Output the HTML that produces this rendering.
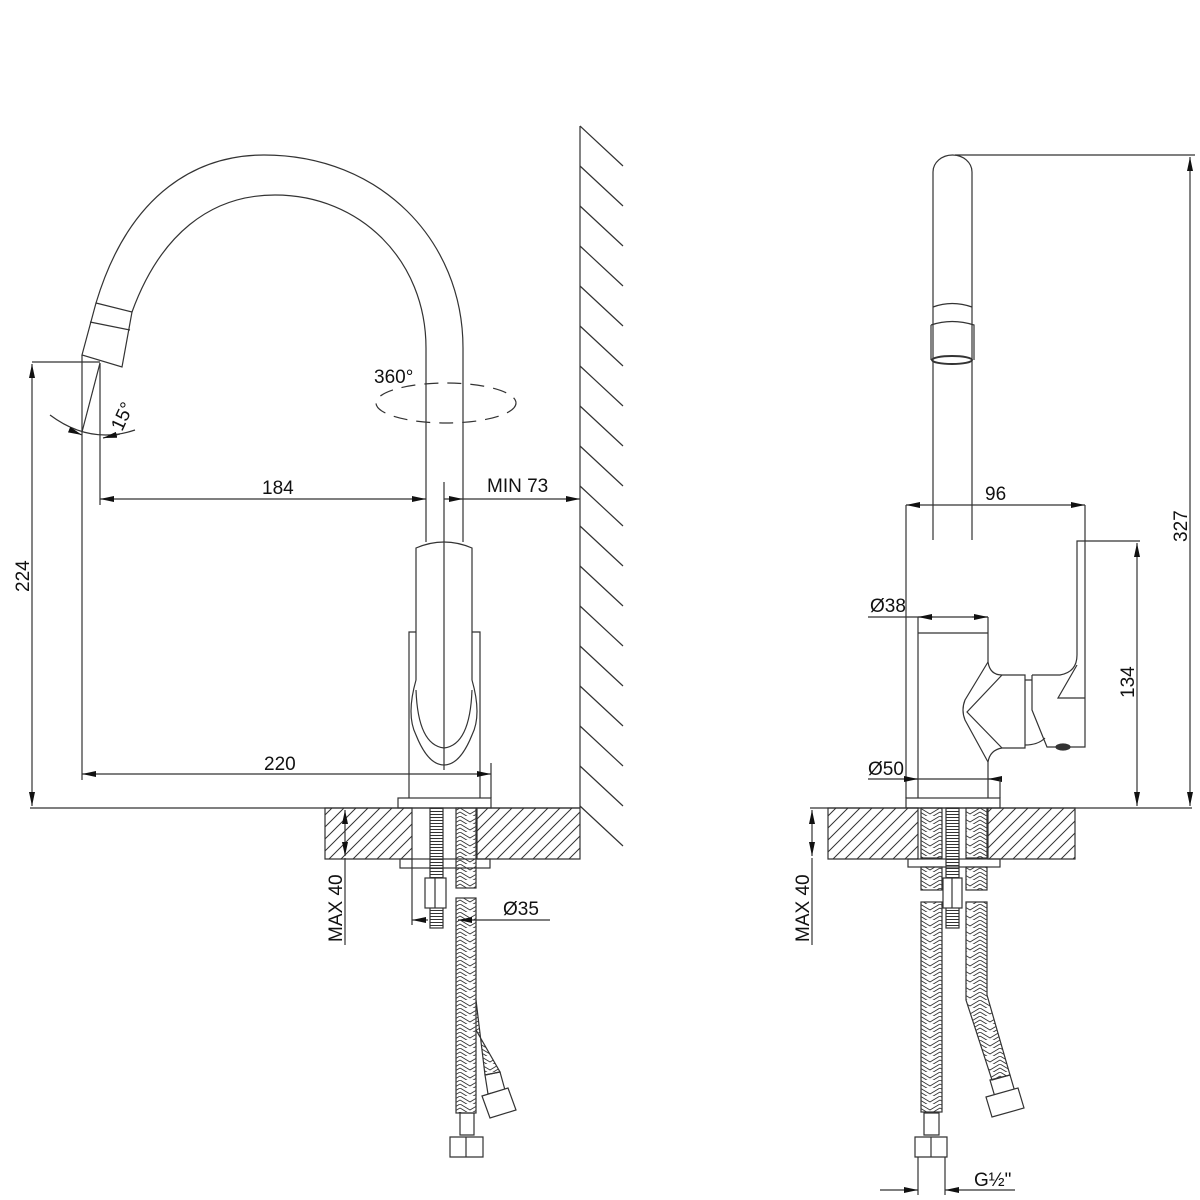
<!DOCTYPE html>
<html><head><meta charset="utf-8"><style>
html,body{margin:0;padding:0;background:#fff;}
svg{display:block;}
text{font-family:"Liberation Sans",Arial,sans-serif;font-size:19px;fill:#111;}
</style></head><body>
<svg width="1200" height="1200" viewBox="0 0 1200 1200" xmlns="http://www.w3.org/2000/svg">
<defs>
<pattern id="h1" width="12" height="12" patternUnits="userSpaceOnUse">
<path d="M-3 15 L15 -3 M-3 3 L3 -3 M9 15 L15 9" stroke="#333" stroke-width="1"/>
</pattern>
<pattern id="brd" width="20" height="8" patternUnits="userSpaceOnUse">
<path d="M0 0 L10 6 L20 0 M0 4 L10 10 L20 4" stroke="#333" stroke-width="0.9" fill="none"/>
</pattern>
<pattern id="thr" width="10" height="3" patternUnits="userSpaceOnUse">
<path d="M0 1.5 L10 1.5" stroke="#333" stroke-width="1"/>
</pattern>
<marker id="a" viewBox="0 0 14 6" refX="14" refY="3" markerWidth="14" markerHeight="6" orient="auto-start-reverse" markerUnits="userSpaceOnUse">
<path d="M0 0 L14 3 L0 6 Z" fill="#111"/>
</marker>
</defs>
<g stroke="#333" stroke-width="1.2" fill="none">
<path d="M96 303 C130 190 200 155 264 155 C380 155 463 240 463 348 L463 542"/>
<path d="M132 312 C160 235 210 195 275 195 C360 195 426 260 426 348 L426 542"/>
<path d="M96 303 L132 312 L122 367 L82 355 Z"/>
<path d="M90 322 L130 330"/>
<ellipse cx="446" cy="403" rx="70" ry="20" stroke-dasharray="14,9"/>
<text x="374" y="383" stroke="none">360°</text>
<path d="M50 415 Q90 445 135 430" />
<path d="M70 430 L82 435" marker-end="url(#a)"/>
<path d="M120 434 L103 438" marker-end="url(#a)"/>
<text x="0" y="0" stroke="none" transform="translate(122,432) rotate(-65)">15°</text>
<path d="M32 362 L100 362"/>
<path d="M82 355 L82 780"/>
<path d="M100 363 L100 505"/>
<path d="M100 363 L82 432"/>
<path d="M32 364 L32 806" marker-start="url(#a)" marker-end="url(#a)"/>
<text stroke="none" transform="translate(29,592) rotate(-90)">224</text>
<path d="M30 808 L580 808"/>
<path d="M100 499 L426 499" marker-start="url(#a)" marker-end="url(#a)"/>
<path d="M444 499 L463 499" marker-end="url(#a)"/>
<path d="M463 499 L580 499" marker-end="url(#a)"/>
<text x="262" y="494" stroke="none">184</text>
<text x="487" y="492" stroke="none">MIN 73</text>
<path d="M444 482 L444 770"/>
<path d="M416 548 Q444 536 472 548 L472 680 Q482 715 472 735 Q460 765 444 765 Q428 765 416 735 Q406 715 416 680 Z"/>
<path d="M416 690 Q418 745 444 748 Q470 745 472 690"/>
<path d="M409 798 L409 632 L416 632 M472 632 L480 632 L480 798"/>
<rect x="398" y="798" width="93" height="10"/>
<path d="M82 774 L491 774" marker-start="url(#a)" marker-end="url(#a)"/>
<path d="M491 763 L491 798"/>
<text x="264" y="770" stroke="none">220</text>
<path d="M580 126 L580 808"/>
<path d="M580 126 L623 166 M580 166 L623 206 M580 206 L623 246 M580 246 L623 286 M580 286 L623 326 M580 326 L623 366 M580 366 L623 406 M580 406 L623 446 M580 446 L623 486 M580 486 L623 526 M580 526 L623 566 M580 566 L623 606 M580 606 L623 646 M580 646 L623 686 M580 686 L623 726 M580 726 L623 766 M580 766 L623 806 M580 806 L623 846"/>
<path d="M325 808 L412 808 L412 859 L325 859 Z" fill="url(#h1)"/>
<path d="M477 808 L580 808 L580 859 L477 859 Z" fill="url(#h1)"/>
<rect x="400" y="859" width="90" height="9"/>
<rect x="430" y="808" width="13" height="120" fill="url(#thr)"/>
<rect x="425" y="878" width="21" height="30" fill="#fff"/>
<path d="M435 878 L435 908"/>
<rect x="456" y="808" width="20" height="80" fill="url(#brd)"/>
<rect x="456" y="898" width="20" height="215" fill="url(#brd)"/>
<path d="M476 1000 L485 1075 L500 1072 L476 1030" fill="url(#brd)"/>
<path d="M485 1075 L500 1072 L505 1090 L488 1094 Z"/>
<path d="M482 1096 L508 1088 L516 1110 L490 1118 Z" fill="#fff"/>
<path d="M460 1113 L474 1113 L474 1135 L460 1135 Z"/>
<path d="M450 1137 L483 1137 L483 1157 L450 1157 Z" fill="#fff"/>
<path d="M466 1137 L466 1157"/>
<path d="M345 810 L345 856" marker-start="url(#a)" marker-end="url(#a)"/>
<path d="M345 858 L345 945"/>
<text stroke="none" transform="translate(342,942) rotate(-90)">MAX 40</text>
<path d="M412 859 L412 925"/>
<path d="M412 920 L428 920" marker-start="url(#a)"/>
<path d="M458 920 L550 920" marker-start="url(#a)"/>
<text x="503" y="915" stroke="none">Ø35</text>

<path d="M933 540 L933 172 A19.5 17 0 0 1 972 172 L972 540"/>
<path d="M933 307 Q952 300 972 307"/>
<path d="M931 325 Q952 318 974 325 L974 360 M931 325 L931 360"/>
<ellipse cx="952" cy="360" rx="20" ry="4" stroke-width="2"/>
<path d="M955 155 L1195 155"/>
<path d="M1190 157 L1190 806" marker-start="url(#a)" marker-end="url(#a)"/>
<text stroke="none" transform="translate(1187,542) rotate(-90)">327</text>
<path d="M906 505 L1085 505" marker-start="url(#a)" marker-end="url(#a)"/>
<text x="985" y="500" stroke="none">96</text>
<path d="M906 505 L906 798 M1085 505 L1085 541"/>
<path d="M868 617 L988 617"/>
<path d="M933 617 L918 617" marker-end="url(#a)"/>
<path d="M972 617 L988 617" marker-end="url(#a)"/>
<text x="870" y="612" stroke="none">Ø38</text>
<path d="M918 617 L918 798 M988 617 L988 662 M918 633 L988 633 M988 762 L988 798"/>
<path d="M868 779 L1000 779"/>
<path d="M918 779 L906 779" marker-start="url(#a)"/>
<path d="M1000 779 L988 779" marker-end="url(#a)"/>
<text x="868" y="775" stroke="none">Ø50</text>
<path d="M1000 779 L1000 798"/>
<rect x="906" y="798" width="94" height="10"/>
<path d="M988 662 Q990 675 1002 675 L1025 675 L1025 748 L1002 748 Q990 750 988 762"/>
<path d="M988 662 L965 700 Q961 710 965 720 L988 762"/>
<path d="M1002 675 L967 712 L1002 748"/>
<path d="M1025 680 L1032 680 M1025 745 Q1038 745 1045 738"/>
<path d="M1032 675 L1060 675 Q1077 672 1077 655 L1077 541 L1085 541 L1085 747 L1047 747 L1032 710 L1032 675"/>
<path d="M1077 665 L1058 698 L1085 698"/>
<ellipse cx="1063" cy="747" rx="7" ry="3" fill="#333"/>
<path d="M1085 541 L1140 541"/>
<path d="M1137 543 L1137 806" marker-start="url(#a)" marker-end="url(#a)"/>
<text stroke="none" transform="translate(1134,698) rotate(-90)">134</text>
<path d="M810 808 L1192 808"/>
<path d="M828 808 L918 808 L918 859 L828 859 Z" fill="url(#h1)"/>
<path d="M988 808 L1075 808 L1075 859 L988 859 Z" fill="url(#h1)"/>
<rect x="908" y="859" width="92" height="8"/>
<rect x="921" y="808" width="21" height="50" fill="url(#brd)"/>
<rect x="966" y="808" width="21" height="50" fill="url(#brd)"/>
<rect x="946" y="808" width="13" height="120" fill="url(#thr)"/>
<rect x="921" y="867" width="21" height="23" fill="url(#brd)"/>
<rect x="966" y="867" width="21" height="23" fill="url(#brd)"/>
<rect x="943" y="878" width="19" height="30" fill="#fff"/>
<path d="M952 878 L952 908"/>
<rect x="921" y="902" width="21" height="210" fill="url(#brd)"/>
<path d="M966 902 L987 902 L987 995 L1010 1075 L992 1080 L966 1000 Z" fill="url(#brd)"/>
<path d="M990 1080 L1010 1075 L1015 1092 L995 1097 Z"/>
<path d="M986 1097 L1018 1088 L1024 1108 L992 1117 Z" fill="#fff"/>
<path d="M924 1113 L939 1113 L939 1135 L924 1135 Z"/>
<path d="M915 1137 L947 1137 L947 1157 L915 1157 Z" fill="#fff"/>
<path d="M931 1137 L931 1157"/>
<path d="M918 1157 L918 1195 M945 1157 L945 1195"/>
<path d="M880 1190 L918 1190" marker-end="url(#a)"/>
<path d="M1015 1190 L945 1190" marker-end="url(#a)"/>
<text x="974" y="1186" stroke="none">G½"</text>
<path d="M812 810 L812 856" marker-start="url(#a)" marker-end="url(#a)"/>
<path d="M812 858 L812 945"/>
<text stroke="none" transform="translate(809,942) rotate(-90)">MAX 40</text>
</g>
</svg>
</body></html>
